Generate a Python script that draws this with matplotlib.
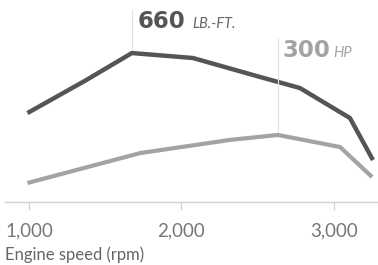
import matplotlib
matplotlib.use("Agg")
import matplotlib.pyplot as plt

# valori
torque_rpm = [990, 1370, 1675, 2075, 2515, 2777, 3105, 3256]
torque_lbft = [394, 538, 660, 638, 554, 505, 372, 186]
hp_rpm = [990, 1730, 2320, 2633, 3040, 3250]
hp_vals = [85, 219, 278, 300, 246, 112]
xticks = [1000, 2000, 3000]
xtick_labels = ["1,000", "2,000", "3,000"]

plt.rcParams['font.family'] = ['Lato', 'DejaVu Sans']

fig = plt.figure(figsize=(3.78, 2.65), dpi=100)
ax = fig.add_axes([5 / 378, 63 / 265, 373 / 378, 202 / 265])
ax2 = ax.twinx()

ax.plot(torque_rpm, torque_lbft, color='#555555', lw=3.2, solid_capstyle='butt', zorder=3)
ax2.plot(hp_rpm, hp_vals, color='#a3a3a3', lw=3.0, solid_capstyle='butt', zorder=3)

ax.set_xlim(843, 3289)
ax.set_ylim(0, 895)
ax2.set_ylim(0, 904)

# linii de ghidaj la varfuri
pk_t = torque_lbft.index(max(torque_lbft))
pk_h = hp_vals.index(max(hp_vals))
ax.vlines(torque_rpm[pk_t], max(torque_lbft), 850, color='#e2e2e2', lw=0.8, zorder=1)
ax2.vlines(hp_rpm[pk_h], max(hp_vals), 734, color='#e2e2e2', lw=0.8, zorder=1)

ax.annotate("660", (torque_rpm[pk_t], max(torque_lbft)), xytext=(4, 18),
            textcoords='offset points', fontsize=16.5, fontweight='bold',
            family='DejaVu Sans', color='#555555', va='baseline', ha='left')
ax.annotate("LB.-FT.", (torque_rpm[pk_t], max(torque_lbft)), xytext=(43.5, 18),
            textcoords='offset points', fontsize=10.5, style='italic',
            color='#666666', va='baseline', ha='left')
ax2.annotate("300", (hp_rpm[pk_h], max(hp_vals)), xytext=(3.5, 56),
             textcoords='offset points', fontsize=16.5, fontweight='bold',
             family='DejaVu Sans', color='#a3a3a3', va='baseline', ha='left')
ax2.annotate("HP", (hp_rpm[pk_h], max(hp_vals)), xytext=(40, 56),
             textcoords='offset points', fontsize=10.5, style='italic',
             color='#a3a3a3', va='baseline', ha='left')

for a in (ax, ax2):
    for s in ['top', 'right', 'left']:
        a.spines[s].set_visible(False)
    a.set_yticks([])
ax2.spines['bottom'].set_visible(False)
ax.spines['bottom'].set_color('#d0d0d0')
ax.spines['bottom'].set_linewidth(1.0)

ax.set_xticks(xticks)
ax.set_xticklabels(xtick_labels)
ax.tick_params(axis='x', length=6, width=0.8, color='#d0d0d0', labelsize=13.5,
               labelcolor='#777777', pad=9)
ax.set_xlabel("Engine speed (rpm)", fontsize=12, color='#666666')
ax.xaxis.set_label_coords(0, -0.218)
ax.xaxis.label.set_ha('left')

fig.savefig("out.png", dpi=100)
